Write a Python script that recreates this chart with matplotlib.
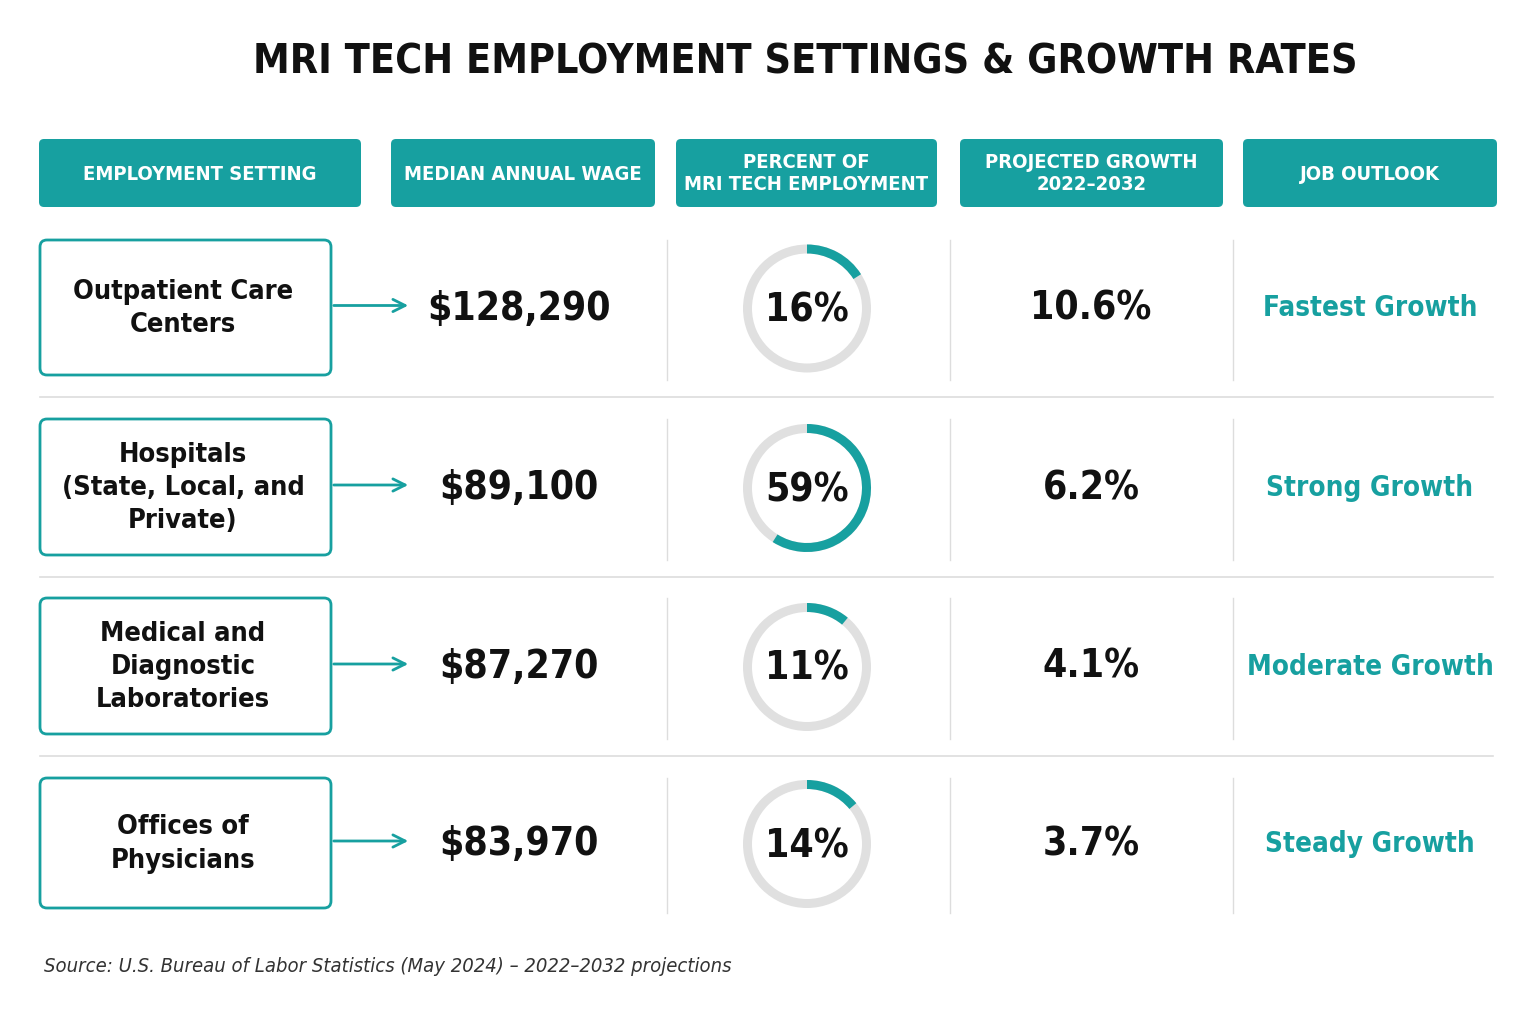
import matplotlib.pyplot as plt
from matplotlib.patches import FancyBboxPatch, Wedge

plt.rcParams['font.family'] = ['DejaVu Sans']
plt.rcParams['font.stretch'] = 'condensed'

settings = ['Outpatient Care\nCenters', 'Hospitals\n(State, Local, and\nPrivate)',
            'Medical and\nDiagnostic\nLaboratories', 'Offices of\nPhysicians']
wages = ['$128,290', '$89,100', '$87,270', '$83,970']
shares = [16, 59, 11, 14]
growth = [10.6, 6.2, 4.1, 3.7]
outlook = ['Fastest Growth', 'Strong Growth', 'Moderate Growth', 'Steady Growth']
headers = ['EMPLOYMENT SETTING', 'MEDIAN ANNUAL WAGE', 'PERCENT OF\nMRI TECH EMPLOYMENT',
           'PROJECTED GROWTH\n2022–2032', 'JOB OUTLOOK']

TEAL = '#17a0a0'
DARK = '#111111'

fig = plt.figure(figsize=(15.36, 10.24), dpi=100)
ax = fig.add_axes([0, 0, 1, 1])
ax.set_xlim(0, 1536)
ax.set_ylim(1024, 0)
ax.axis('off')
ax.set_aspect('equal')

ax.text(805, 62, 'MRI TECH EMPLOYMENT SETTINGS & GROWTH RATES', ha='center', va='center',
        fontsize=29.5, fontweight='bold', color=DARK)

# header boxes
hx = [(39, 361), (391, 655), (676, 937), (960, 1223), (1243, 1497)]
for (x0, x1), h in zip(hx, headers):
    ax.add_patch(FancyBboxPatch((x0, 139), x1 - x0, 68, boxstyle='round,pad=0,rounding_size=5',
                                fc=TEAL, ec='none'))
    ax.text((x0 + x1) / 2, 174, h, ha='center', va='center', fontsize=14.5,
            fontweight='bold', color='white', linespacing=1.2)

rows = [(240, 375), (419, 555), (598, 734), (778, 908)]
for i, (y0, y1) in enumerate(rows):
    yc = (y0 + y1) / 2 + 1
    ax.add_patch(FancyBboxPatch((40, y0), 291, y1 - y0, boxstyle='round,pad=0,rounding_size=7',
                                fc='white', ec=TEAL, lw=2))
    ax.text(183, yc, settings[i], ha='center', va='center', fontsize=19.5, color=DARK,
            fontweight='bold', linespacing=1.35)
    ax.annotate('', xy=(411, yc - 3), xytext=(331, yc - 3),
                arrowprops=dict(arrowstyle='->', color=TEAL, lw=2, mutation_scale=22))
    ax.text(519, yc, wages[i], ha='center', va='center', fontsize=28, fontweight='bold', color=DARK)
    # donut (y axis inverted: -90 is top, increasing angle runs clockwise)
    cx, cy, r = 807, yc, 64
    ax.add_patch(Wedge((cx, cy), r, 0, 360, width=9, fc='#e0e0e0', ec='none'))
    ax.add_patch(Wedge((cx, cy), r, -90, -90 + 360 * shares[i] / 100, width=9, fc=TEAL, ec='none'))
    ax.text(cx, cy + 2, f'{shares[i]}%', ha='center', va='center', fontsize=28,
            fontweight='bold', color=DARK)
    ax.text(1091, yc, f'{growth[i]}%', ha='center', va='center', fontsize=28,
            fontweight='bold', color=DARK)
    ax.text(1370, yc, outlook[i], ha='center', va='center', fontsize=20,
            fontweight='bold', color=TEAL)
    for vx in (667, 950, 1233):
        ax.plot([vx, vx], [y0, y1 + 5], color='#dddddd', lw=1)
    if i < len(rows) - 1:
        ax.plot([40, 1493], [y1 + 22, y1 + 22], color='#dddddd', lw=1.2)

ax.text(44, 967, 'Source: U.S. Bureau of Labor Statistics (May 2024) – 2022–2032 projections',
        ha='left', va='center', fontsize=14.5, style='italic', color='#333333')

fig.savefig('out.png', dpi=100, facecolor='white')
